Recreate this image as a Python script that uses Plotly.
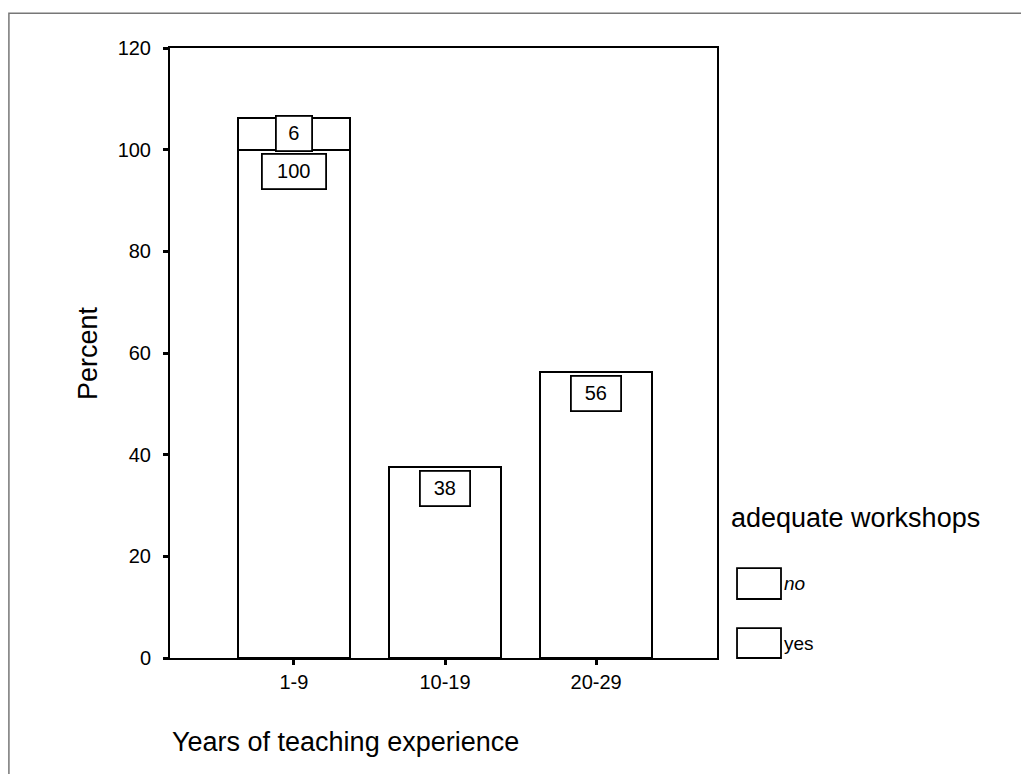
import plotly.graph_objects as go

# data
categories = ["1-9", "10-19", "20-29"]
yes_values = [100, 37.5, 56.25]
no_values = [6.25, 0, 0]
series_names = ["no", "yes"]
y_ticks = [0, 20, 40, 60, 80, 100, 120]

FONT = "Liberation Sans, Arial, sans-serif"

fig = go.Figure()
bar_style = dict(marker=dict(color="white", line=dict(color="black", width=1.8)),
                 width=0.74, showlegend=False, hoverinfo="skip")
fig.add_trace(go.Bar(x=categories, y=yes_values, name="yes", **bar_style))
fig.add_trace(go.Bar(x=categories, y=no_values, name="no", **bar_style))

# boxed value labels at the top of each segment
label_box = dict(showarrow=False, yanchor="top", bgcolor="white", bordercolor="black",
                 borderwidth=1.8, borderpad=0, height=33, font=dict(family=FONT, size=20, color="black"))
for cat, yes, no in zip(categories, yes_values, no_values):
    txt = str(round(yes))
    fig.add_annotation(x=cat, y=yes, text=txt, width=20 + 14 * len(txt), yshift=-3, **label_box)
    if no > 0:
        fig.add_annotation(x=cat, y=yes + no, text=str(round(no)), width=34, yshift=3, **label_box)

# axis titles
fig.add_annotation(text="Percent", xref="paper", yref="paper", x=-0.15, y=0.5, textangle=-90,
                   xanchor="center", yanchor="middle", showarrow=False,
                   font=dict(family=FONT, size=27, color="black"))
fig.add_annotation(text="Years of teaching experience", xref="paper", yref="paper", x=0.0, y=-0.138,
                   xanchor="left", yanchor="middle", showarrow=False,
                   font=dict(family=FONT, size=27, color="black"))

# legend drawn by hand (large swatches)
fig.add_annotation(text="adequate workshops", xref="paper", yref="paper", x=1.022, y=0.2295,
                   xanchor="left", yanchor="middle", showarrow=False,
                   font=dict(family=FONT, size=27, color="black"))
legend_rows = [(0.1475, 0.0967, "<i>no</i>"), (0.049, 0.0, "yes")]
for (y_top, y_bot, label), name in zip(legend_rows, series_names):
    fig.add_shape(type="rect", xref="paper", yref="paper", x0=1.0366, x1=1.117, y0=y_bot, y1=y_top,
                  line=dict(color="black", width=1.8), fillcolor="white")
    fig.add_annotation(text=label, xref="paper", yref="paper", x=1.119, y=(y_top + y_bot) / 2,
                       xanchor="left", yanchor="middle", showarrow=False,
                       font=dict(family=FONT, size=19, color="black"))

# outer frame
fig.add_shape(type="rect", xref="paper", yref="paper", x0=-0.2945, x1=1.561, y0=-0.3, y1=1.057,
              line=dict(color="#777777", width=1.5), layer="below")

fig.update_layout(
    width=1029, height=774,
    margin=dict(l=162, r=320, t=40, b=124),
    barmode="stack", bargap=0.26,
    paper_bgcolor="white", plot_bgcolor="white",
    font=dict(family=FONT, color="black"),
    showlegend=False,
)
fig.update_xaxes(range=[-0.82, 2.8], showline=True, linecolor="black", linewidth=2, mirror=True,
                 ticks="outside", ticklen=5, tickwidth=3, tickcolor="black",
                 tickfont=dict(family=FONT, size=20), showgrid=False)
fig.update_yaxes(range=[0, 120], tickvals=y_ticks, showline=True, linecolor="black", linewidth=2,
                 mirror=True, ticks="outside", ticklen=5, tickwidth=3, tickcolor="black",
                 ticklabelstandoff=8, tickfont=dict(family=FONT, size=20), showgrid=False, zeroline=False)

fig.write_html("out.html")
